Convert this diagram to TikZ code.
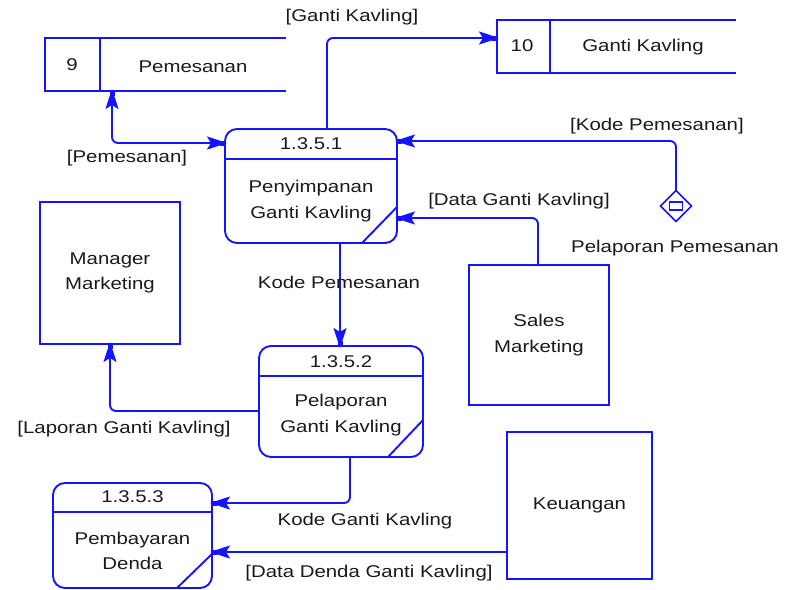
\documentclass[tikz,border=0pt]{standalone}
\usepackage{fontspec}
\setmainfont{Liberation Sans}[FakeStretch=1.2]
\usetikzlibrary{arrows.meta,calc,shapes.geometric}
\definecolor{dfdblue}{RGB}{20,20,255}
\definecolor{dfdtext}{RGB}{25,25,25}
\begin{document}
\begin{tikzpicture}[x=1pt,y=-1pt,
  every node/.style={text=dfdtext,font=\fontsize{17}{25.5}\selectfont,inner sep=0pt,outer sep=0pt},
  line/.style={draw=dfdblue,line width=1.9pt},
  tip/.tip={Stealth[length=20pt,width=13pt,inset=4pt,sep=-7pt] Rectangle[length=5pt,width=5pt,sep=0pt]},
  flow/.style={line,rounded corners=6pt,-tip},
  biflow/.style={line,rounded corners=6pt,tip-tip},
  process/.style={rectangle,line,rounded corners=12pt},
  entity/.style={rectangle,line,align=center},
  store/.style={rectangle},
  lbl/.style={align=center}]
\useasboundingbox (0,0) rectangle (792,589);

% data stores
\node[store,minimum width=241pt,minimum height=53pt] (s9) at (165.5,64.5) {};
\draw[line] (s9.north east) -- (s9.north west) -- (s9.south west) -- (s9.south east);
\draw[line] ($(s9.north west)+(55,0)$) -- ($(s9.south west)+(55,0)$);
\node (s9id) at (72,65) {9};
\node (s9name) at (193,67) {Pemesanan};

\node[store,minimum width=239pt,minimum height=53pt] (s10) at (616.5,46.5) {};
\draw[line] (s10.north east) -- (s10.north west) -- (s10.south west) -- (s10.south east);
\draw[line] ($(s10.north west)+(53,0)$) -- ($(s10.south west)+(53,0)$);
\node (s10id) at (522,46) {10};
\node (s10name) at (643,47) {Ganti Kavling};

% processes
\node[process,minimum width=172pt,minimum height=114pt] (P1) at (311,186) {};
\draw[line] ($(P1.north west)+(0,30)$) -- ($(P1.north east)+(0,30)$);
\draw[line] ($(P1.south east)+(-35,0)$) -- ($(P1.south east)+(0,-36)$);
\node (P1id) at (311,144) {1.3.5.1};
\node[lbl] (P1name) at (311,201) {Penyimpanan\\Ganti Kavling};

\node[process,minimum width=164pt,minimum height=111pt] (P2) at (341,401.5) {};
\draw[line] ($(P2.north west)+(0,30)$) -- ($(P2.north east)+(0,30)$);
\draw[line] ($(P2.south east)+(-35,0)$) -- ($(P2.south east)+(0,-37)$);
\node (P2id) at (341,362) {1.3.5.2};
\node[lbl] (P2name) at (341,415) {Pelaporan\\Ganti Kavling};

\node[process,minimum width=159pt,minimum height=105pt] (P3) at (132.5,535.5) {};
\draw[line] ($(P3.north west)+(0,29)$) -- ($(P3.north east)+(0,29)$);
\draw[line] ($(P3.south east)+(-35,0)$) -- ($(P3.south east)+(0,-34)$);
\node (P3id) at (132.5,497) {1.3.5.3};
\node[lbl] (P3name) at (132.5,551) {Pembayaran\\Denda};

% external entities
\node[entity,minimum width=140pt,minimum height=142pt] (MM) at (110,273) {Manager\\Marketing};
\node[entity,minimum width=140pt,minimum height=140pt] (SM) at (539,335) {Sales\\Marketing};
\node[entity,minimum width=145pt,minimum height=147pt] (KU) at (579.5,505.5) {Keuangan};

% trigger
\node[diamond,line,line width=1.5pt,minimum width=31pt,minimum height=31pt,inner sep=0pt] (D) at (676,206) {};
\node[rectangle,line,line width=1.5pt,minimum width=13pt,minimum height=8pt] (Dbox) at (D.center) {};

% flows
\draw[biflow] ($(s9.south west)+(67,0)$) |- ($(P1.north west)+(0,14)$);
\draw[flow] ($(P1.north west)+(102,0)$) |- ($(s10.north west)+(0,18)$);
\draw[flow] (D.north) |- ($(P1.north east)+(0,12)$);
\draw[flow] ($(SM.north)+(-1,0)$) |- ($(P1.south east)+(0,-25)$);
\draw[flow] ($(P1.south)+(29,0)$) -- ($(P1.south)+(29,103)$);
\draw[flow] ($(P2.west)+(0,9.5)$) -| (MM.south);
\draw[flow] ($(P2.south)+(9,0)$) |- ($(P3.north east)+(0,20)$);
\draw[flow] ($(KU.west)+(0,46.5)$) -- ($(P3.south east)+(0,-36)$);

% flow labels
\node (l1) at (352,17) {[Ganti Kavling]};
\node (l2) at (127,158) {[Pemesanan]};
\node (l3) at (657,126) {[Kode Pemesanan]};
\node (l4) at (675,248) {Pelaporan Pemesanan};
\node (l5) at (519,201) {[Data Ganti Kavling]};
\node (l6) at (339,282) {Kode Pemesanan};
\node (l7) at (124,429) {[Laporan Ganti Kavling]};
\node (l8) at (365,521) {Kode Ganti Kavling};
\node (l9) at (369,573) {[Data Denda Ganti Kavling]};
\end{tikzpicture}
\end{document}
